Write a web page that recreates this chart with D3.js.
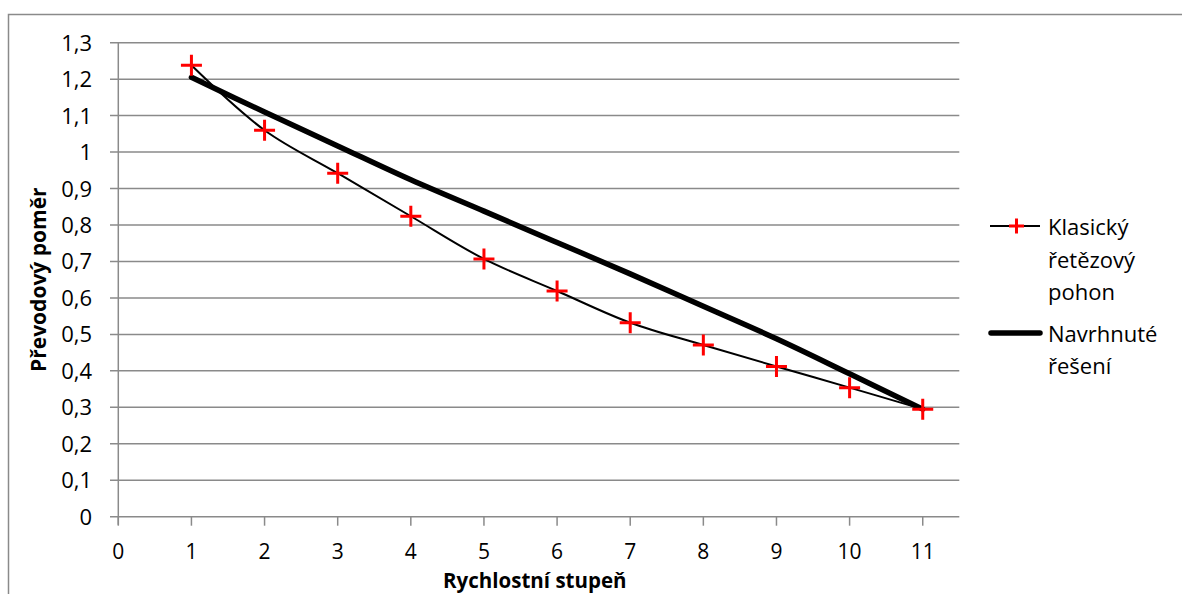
<!DOCTYPE html>
<html>
<head>
<meta charset="utf-8">
<script src="https://d3js.org/d3.v7.min.js"></script>
<style>
  body { margin: 0; background: #fff; }
  text { font-family: "Open Sans", Lato, sans-serif; fill: #000; }
  .grid line { stroke: #8a8a8a; stroke-width: 1.5px; }
</style>
</head>
<body>
<svg width="1182" height="594"></svg>
<script>
const stupne = [1, 2, 3, 4, 5, 6, 7, 8, 9, 10, 11];
const klasicky = [1.238, 1.06, 0.942, 0.824, 0.707, 0.619, 0.532, 0.471, 0.412, 0.354, 0.295];
const navrhnute = [1.205, 1.11, 1.017, 0.924, 0.838, 0.752, 0.666, 0.577, 0.488, 0.392, 0.295];
const xTicks = [0, 1, 2, 3, 4, 5, 6, 7, 8, 9, 10, 11];
const yTicks = [0, 0.1, 0.2, 0.3, 0.4, 0.5, 0.6, 0.7, 0.8, 0.9, 1, 1.1, 1.2, 1.3];

const svg = d3.select("svg");
const gray = "#8a8a8a";

// outer chart border
svg.append("rect")
  .attr("x", 8.5).attr("y", 14.5)
  .attr("width", 1200).attr("height", 620)
  .attr("fill", "none").attr("stroke", gray).attr("stroke-width", 1.5);

const x = d3.scaleLinear().domain([0, 11.5]).range([118.3, 959.3]);
const y = d3.scaleLinear().domain([0, 1.3]).range([516.7, 42.7]);

const fmt = d => String(+d.toFixed(1)).replace(".", ",");

// horizontal gridlines + y ticks
svg.append("g").attr("class", "grid")
  .selectAll("line").data(yTicks).join("line")
  .attr("x1", 110).attr("x2", x(11.5))
  .attr("y1", d => y(d)).attr("y2", d => y(d));

svg.append("g").selectAll("text").data(yTicks).join("text")
  .attr("x", 92).attr("y", d => y(d) + 8)
  .attr("text-anchor", "end")
  .style("font-size", "22px")
  .text(fmt);

// y axis line
svg.append("line")
  .attr("x1", x(0)).attr("x2", x(0))
  .attr("y1", y(1.3)).attr("y2", y(0) + 8)
  .attr("stroke", gray).attr("stroke-width", 1.5);

// x ticks
svg.append("g").attr("class", "grid")
  .selectAll("line").data(xTicks).join("line")
  .attr("x1", d => x(d)).attr("x2", d => x(d))
  .attr("y1", y(0)).attr("y2", y(0) + 9);

svg.append("g").selectAll("text").data(xTicks).join("text")
  .attr("x", d => x(d)).attr("y", 559)
  .attr("text-anchor", "middle")
  .style("font-size", "21px")
  .text(d => d);

// axis titles
svg.append("text")
  .attr("x", (x(0) + x(11.5)) / 2 - 4).attr("y", 587.5)
  .attr("text-anchor", "middle")
  .style("font-size", "20.5px").style("font-weight", "bold")
  .text("Rychlostní stupeň");

svg.append("text")
  .attr("transform", "translate(46," + y(0.65) + ") rotate(-90)")
  .attr("text-anchor", "middle")
  .style("font-size", "21px").style("font-weight", "bold")
  .text("Převodový poměr");

const line = d3.line()
  .x((d, i) => x(stupne[i]))
  .y(d => y(d))
  .curve(d3.curveCatmullRom);

// navrhnute reseni (thick)
svg.append("path").datum(navrhnute)
  .attr("d", line)
  .attr("fill", "none").attr("stroke", "#000")
  .attr("stroke-width", 5.5).attr("stroke-linecap", "round");

// klasicky (thin with markers)
svg.append("path").datum(klasicky)
  .attr("d", line)
  .attr("fill", "none").attr("stroke", "#000").attr("stroke-width", 2);

function plus(g, cx, cy, r) {
  g.append("path")
    .attr("d", `M${cx - r},${cy}H${cx + r}M${cx},${cy - r}V${cy + r}`)
    .attr("stroke", "#ff0000").attr("stroke-width", 3).attr("fill", "none");
}
const markers = svg.append("g");
klasicky.forEach((v, i) => plus(markers, x(stupne[i]), y(v), 10.5));

// legend
const lg = svg.append("g");
lg.append("line").attr("x1", 990).attr("x2", 1040).attr("y1", 226).attr("y2", 226)
  .attr("stroke", "#000").attr("stroke-width", 2);
plus(lg, 1016.5, 226, 7.5);
["Klasický", "řetězový", "pohon"].forEach((t, i) => {
  lg.append("text").attr("x", 1048).attr("y", 235 + i * 32.5)
    .style("font-size", "22px").text(t);
});
lg.append("line").attr("x1", 991).attr("x2", 1040).attr("y1", 333).attr("y2", 333)
  .attr("stroke", "#000").attr("stroke-width", 5.5).attr("stroke-linecap", "round");
["Navrhnuté", "řešení"].forEach((t, i) => {
  lg.append("text").attr("x", 1048).attr("y", 342 + i * 32)
    .style("font-size", "22px").text(t);
});
</script>
</body>
</html>
